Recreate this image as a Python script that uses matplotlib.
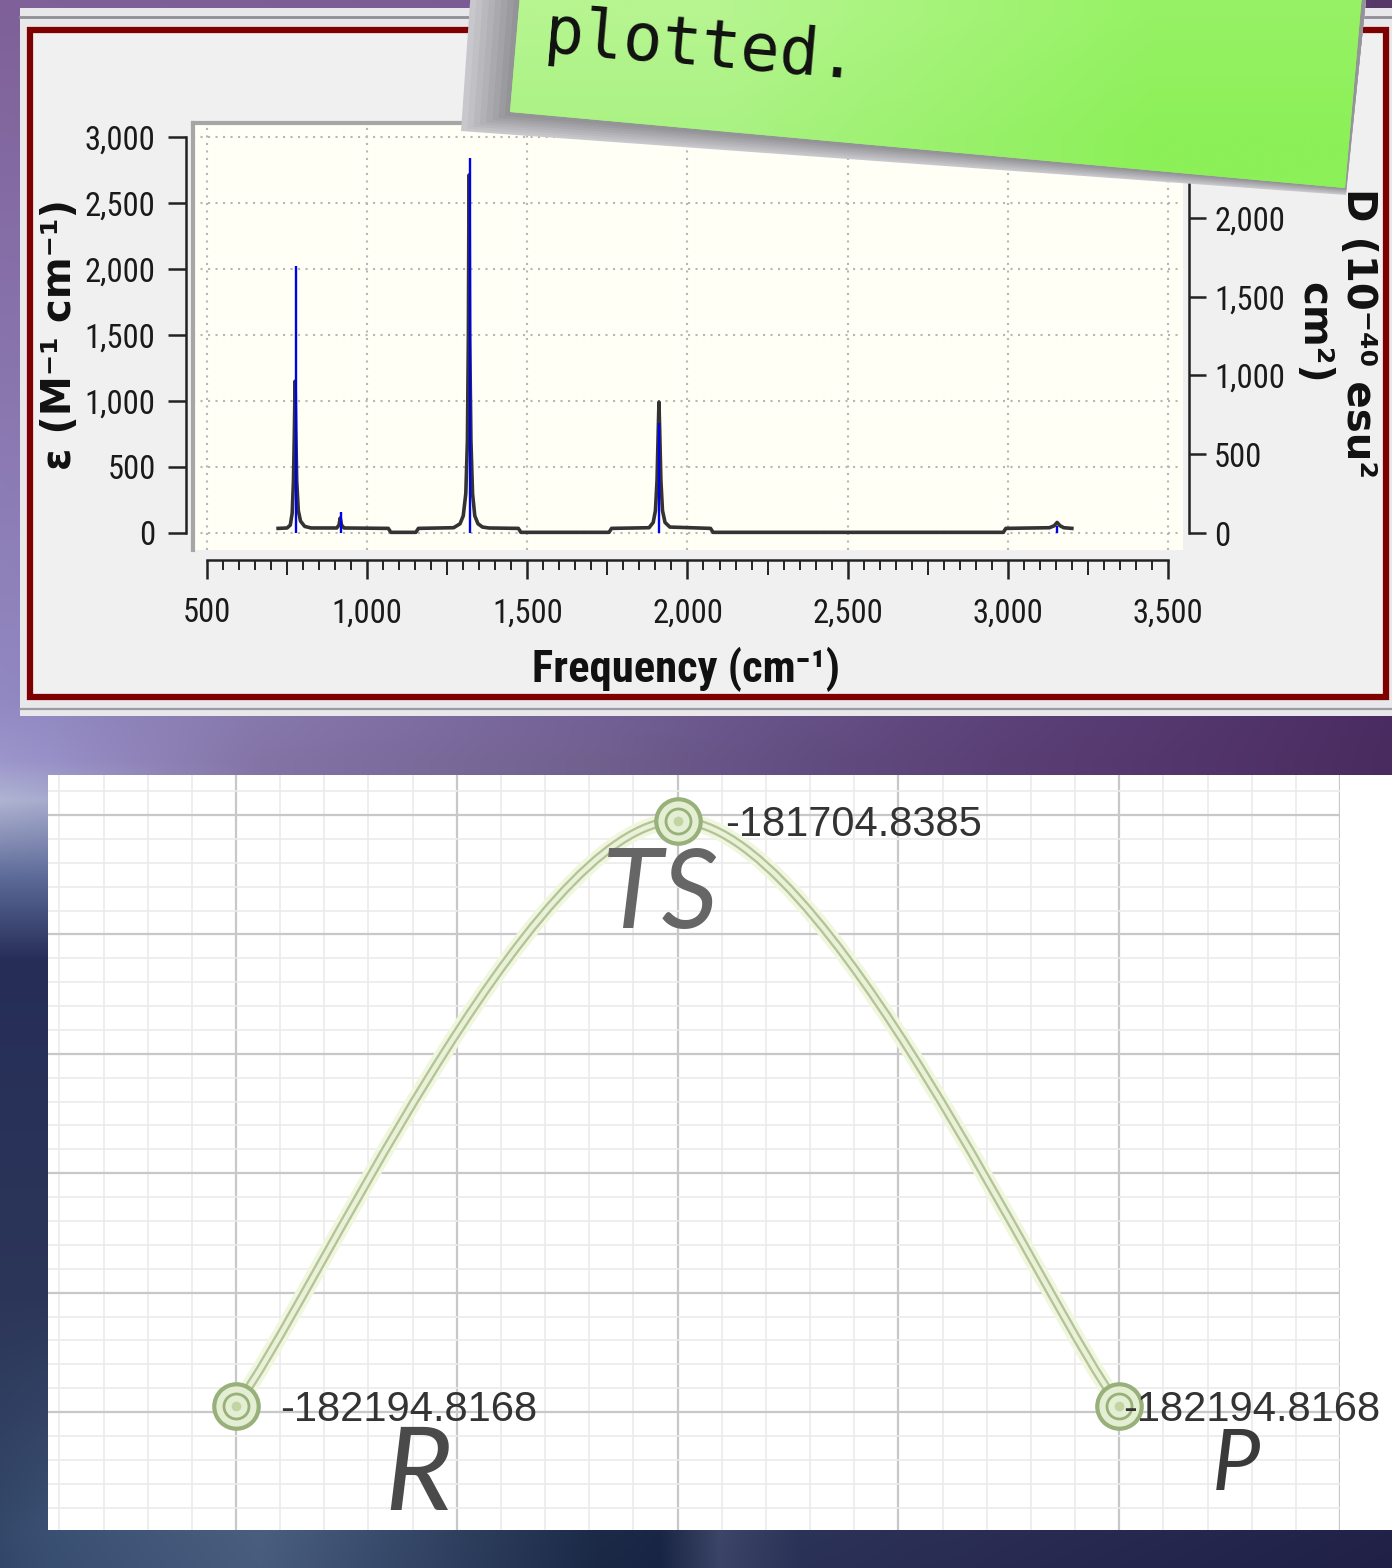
import numpy as np
import matplotlib.pyplot as plt
from matplotlib import font_manager
from matplotlib.patches import Rectangle, Polygon, PathPatch
from matplotlib.path import Path
from matplotlib.colors import to_rgb
from matplotlib.ticker import FixedLocator, FuncFormatter, MultipleLocator

W, H = 1392, 1568

# broadened IR spectrum, epsilon (M-1 cm-1) on the left axis
spec_freq = [722, 750, 760, 766, 770, 773, 775, 777, 780, 785, 792, 805, 825,
             905, 912, 916, 920, 928, 1066, 1074, 1152, 1160,
             1270, 1290, 1300, 1308, 1313, 1316, 1318, 1320, 1324, 1329, 1336, 1346, 1360, 1380,
             1472, 1480, 1755, 1763,
             1880, 1893, 1900, 1905, 1909, 1911, 1913, 1917, 1922, 1930, 1945,
             2072, 2080, 2986, 2994,
             3130, 3145, 3154, 3163, 3175, 3200]
spec_eps = [35, 38, 60, 150, 400, 800, 1150, 800, 400, 170, 90, 50, 38,
            38, 60, 114, 60, 38, 35, 5, 5, 35,
            40, 70, 130, 300, 700, 1500, 2712, 1500, 700, 300, 130, 70, 45, 38,
            35, 5, 5, 35,
            40, 80, 170, 400, 800, 992, 800, 400, 170, 80, 45,
            35, 5, 5, 35,
            40, 55, 80, 55, 40, 35]

# dipole strengths of the individual modes, right axis
stick_freq = [778, 918, 1322, 1911, 3154]
stick_d = [1695, 133, 2381, 700, 45]

freq_ticks = [500, 1000, 1500, 2000, 2500, 3000, 3500]
eps_ticks = [0, 500, 1000, 1500, 2000, 2500, 3000]
d_ticks = [0, 500, 1000, 1500, 2000, 2500]

# reaction path energies
stages = ['R', 'TS', 'P']
stage_pos = [0, 1, 2]
energies = [-182194.8168, -181704.8385, -182194.8168]


def first_font(names):
    for name in names:
        try:
            font_manager.findfont(name, fallback_to_default=False)
            return name
        except ValueError:
            pass
    return 'DejaVu Sans'


narrow = first_font(['Liberation Sans Narrow', 'Roboto Condensed', 'DejaVu Sans Condensed',
                     'Open Sans Condensed', 'Roboto', 'Liberation Sans'])
plt.rcParams['font.family'] = [narrow, 'DejaVu Sans']


def box(x0, y0, x1, y1):
    return [x0 / W, 1 - y1 / H, (x1 - x0) / W, (y1 - y0) / H]


fig = plt.figure(figsize=(W / 100, H / 100), dpi=100)
renderer = fig.canvas.get_renderer()


def fit_size(text, width_px, weight='normal', base=24):
    probe = fig.text(0, 0, text, fontsize=base, weight=weight)
    w = probe.get_window_extent(renderer=renderer).width
    probe.remove()
    return base * width_px / w


tick_size = fit_size('3,000', 71)
xlabel_size = fit_size('Frequency (cm⁻¹)', 308, weight='bold', base=30)

# ---- backdrop gradient ----
gx = [0, 48, 260, 600, 660, 720, 800, 1000, 1392]
gy = [0, 700, 760, 800, 880, 960, 1300, 1530, 1568]
gcol = [
    ['7f6098', '7f6098', '7d5e96', '7a5a92', '78588f', '77578e', '74548b', '6c4c85', '583868'],
    ['9288c2', '9088c0', '887aae', '74609a', '705c94', '6c5890', '685288', '5c437a', '4a2c62'],
    ['9c96cc', '9890c8', '8474a6', '70608e', '6c5a8a', '685486', '624e80', '5a3f75', '4a2b60'],
    ['b0b4d2', 'a8acce', '8474a6', '70608e', '6c5a8a', '685486', '624e80', '5a3f75', '4a2b60'],
    ['5a6896', '5a6896', '5a6896', '5a6896', '5a6896', '5a6896', '5a6896', '5a6896', '5a6896'],
    ['262e58', '262e58', '262e58', '262e58', '262e58', '262e58', '262e58', '262e58', '262e58'],
    ['2c3658', '2c3658', '2c3658', '2c3658', '2c3658', '2c3658', '2c3658', '2c3658', '2c3658'],
    ['34486a', '3a5072', '4a5f80', '1c2a48', '1a2646', '3c4668', '2c3358', '2a2c54', '222248'],
    ['32466a', '384e70', '485c7e', '1a2846', '182444', '3a4466', '2a3156', '282a52', '202046'],
]
gc = np.array([[to_rgb('#' + c) for c in row] for row in gcol])
xs = np.arange(W) + 0.5
ys = np.arange(H) + 0.5
rows = np.stack([np.stack([np.interp(xs, gx, gc[r, :, k]) for k in range(3)], axis=-1)
                 for r in range(len(gy))])
iy = np.clip(np.searchsorted(gy, ys, side='right') - 1, 0, len(gy) - 2)
gy_arr = np.array(gy, float)
t = ((ys - gy_arr[iy]) / (gy_arr[iy + 1] - gy_arr[iy]))[:, None, None]
backdrop = rows[iy] * (1 - t) + rows[iy + 1] * t

bg = fig.add_axes([0, 0, 1, 1], zorder=0)
bg.imshow(backdrop, extent=(0, W, H, 0), aspect='auto', interpolation='bilinear')
bg.set_xlim(0, W)
bg.set_ylim(H, 0)
bg.axis('off')

# spectrum window frame
bg.add_patch(Rectangle((20, 8), W - 20, 708, fc='#e8e8eb', ec='none'))
bg.plot([20, W], [17, 17], color='#8f8f97', lw=2)
bg.plot([20, W], [709, 709], color='#9a9aa2', lw=1.6)
bg.add_patch(Rectangle((30, 30), 1356, 667, fc='#f0f0f0', ec='#7e0000', lw=4.5))
# white sheet of the energy diagram
bg.add_patch(Rectangle((48, 775), W - 48, 755, fc='white', ec='none'))

# ---- IR spectrum ----
ax = fig.add_axes(box(193, 123, 1183, 550), zorder=2)
ax.set_facecolor('#fffff6')
ax.set_xlim(456.3, 3547)
ax.set_ylim(-128.8, 3106)
ax.plot(spec_freq, spec_eps, color='#333333', lw=2.6, solid_joinstyle='round', zorder=3)

ax.grid(True, which='major', color='#b6b6b6', linestyle=(0, (1, 2.6)), lw=1.5)
ax.set_axisbelow(True)
ax.spines['right'].set_visible(False)
ax.spines['top'].set_color('#a6a6a6')
ax.spines['top'].set_linewidth(3)
ax.plot([0, 0], [0, 1], transform=ax.transAxes, color='#a6a6a6', lw=3, clip_on=False)

ax.spines['left'].set_position(('outward', 5))
ax.spines['left'].set_bounds(0, 3000)
ax.spines['bottom'].set_position(('outward', 7))
ax.spines['bottom'].set_bounds(500, 3500)
for s in ('left', 'bottom'):
    ax.spines[s].set_linewidth(1.8)
    ax.spines[s].set_color('#222222')

fmt = FuncFormatter(lambda v, _: f'{v:,.0f}')
ax.yaxis.set_major_locator(FixedLocator(eps_ticks))
ax.yaxis.set_major_formatter(fmt)
ax.xaxis.set_major_locator(FixedLocator(freq_ticks))
ax.xaxis.set_major_formatter(fmt)
minor_locs = [f for f in range(550, 3500, 50) if f % 500]
ax.xaxis.set_minor_locator(FixedLocator(minor_locs))
ax.tick_params(axis='y', which='major', direction='out', length=13, width=1.8,
               pad=9, labelsize=tick_size, color='#222222', labelcolor='#1a1a1a')
ax.tick_params(axis='x', which='major', direction='out', length=14, width=1.8,
               pad=13, labelsize=tick_size, color='#222222', labelcolor='#1a1a1a')
ax.tick_params(axis='x', which='minor', direction='out', length=7.5, width=1.4,
               color='#222222')
for tk, loc in zip(ax.xaxis.get_minor_ticks(len(minor_locs)), minor_locs):
    if loc % 250 == 0:
        tk.tick1line.set_markersize(11)

ax2 = ax.twinx()
ax2.set_zorder(3)
ax2.set_ylim(-107.9, 2603)
ax2.vlines(stick_freq, 0, stick_d, color='#0000f0', lw=1.7)
for s in ('left', 'top', 'bottom'):
    ax2.spines[s].set_visible(False)
ax2.spines['right'].set_position(('outward', 4))
ax2.spines['right'].set_bounds(0, 2500)
ax2.spines['right'].set_linewidth(1.8)
ax2.spines['right'].set_color('#222222')
ax2.yaxis.set_major_locator(FixedLocator(d_ticks))
ax2.yaxis.set_major_formatter(fmt)
ax2.tick_params(axis='y', direction='out', length=12, width=1.8, pad=6.5,
                labelsize=tick_size, color='#222222', labelcolor='#1a1a1a')

fig.text(60 / W, 1 - 335 / H, 'ε (M⁻¹ cm⁻¹)', rotation=90, ha='center', va='center',
         family='DejaVu Sans', weight='bold', fontsize=29, color='#111111')
fig.text(1336 / W, 1 - 333 / H, 'D (10⁻⁴⁰ esu²\ncm²)', rotation=270, ha='center',
         va='center', multialignment='center', linespacing=1.15,
         family='DejaVu Sans', weight='bold', fontsize=29, color='#111111')
fig.text(686 / W, 1 - 669 / H, 'Frequency (cm⁻¹)', ha='center', va='center',
         weight='bold', fontsize=xlabel_size, color='#111111')

# ---- energy profile along the reaction path ----
eax = fig.add_axes(box(48, 775, 1340, 1530), zorder=2)
eax.set_facecolor('white')
eax.set_xlim(-0.4257, 2.5)
eax.set_ylim(-182298.8, -181666.5)
eax.xaxis.set_major_locator(MultipleLocator(0.5))
eax.xaxis.set_minor_locator(MultipleLocator(0.1))
eax.yaxis.set_major_locator(MultipleLocator(100))
eax.yaxis.set_minor_locator(MultipleLocator(20))
eax.grid(True, which='minor', color='#ebebeb', lw=1.2)
eax.grid(True, which='major', color='#c8c8c8', lw=1.6)
eax.set_axisbelow(True)
eax.tick_params(which='both', length=0, labelbottom=False, labelleft=False)
for s in eax.spines.values():
    s.set_visible(False)

# smoothed connector through the stationary points (Catmull-Rom as cubic Bezier)
pts = np.column_stack([stage_pos, energies]).astype(float)
verts, codes = [tuple(pts[0])], [Path.MOVETO]
for i in range(len(pts) - 1):
    p0, p1 = pts[max(i - 1, 0)], pts[i]
    p2, p3 = pts[i + 1], pts[min(i + 2, len(pts) - 1)]
    verts += [tuple(p1 + (p2 - p0) / 6), tuple(p2 - (p3 - p1) / 6), tuple(p2)]
    codes += [Path.CURVE4] * 3
path = Path(verts, codes)
for lw, col in [(12, '#f1f6de'), (6.5, '#b3c39a'), (3.2, '#eaf1d6')]:
    eax.add_patch(PathPatch(path, fill=False, lw=lw, ec=col, capstyle='round', zorder=3))

eax.plot(stage_pos, energies, 'o', ms=32, mfc='#e3eed2', mec='#98b07a', mew=3, zorder=4)
eax.plot(stage_pos, energies, 'o', ms=18, mfc='none', mec='#98b07a', mew=2, zorder=5)
eax.plot(stage_pos, energies, 'o', ms=7, mfc='#c2d4a4', mec='none', zorder=5)

value_offsets = [32, 34.5, 3]
for x, e, dx in zip(stage_pos, energies, value_offsets):
    eax.annotate(f'{e:.4f}', (x, e), xytext=(dx, 0), textcoords='offset points',
                 ha='left', va='center_baseline', fontsize=30, color='#333333',
                 family=['Liberation Sans', 'DejaVu Sans'], zorder=6)

tag_style = {
    'R': dict(offset=(131, -51), size=84, color='#4a4a4a'),
    'TS': dict(offset=(-12, -55), size=80, color='#666666'),
    'P': dict(offset=(84, -43), size=62, color='#3a3a3a'),
}
for name, x, e in zip(stages, stage_pos, energies):
    st = tag_style[name]
    eax.annotate(name, (x, e), xytext=st['offset'], textcoords='offset points',
                 ha='center', va='center', fontsize=st['size'], color=st['color'],
                 style='italic', weight='normal', family=['Lato', 'DejaVu Sans'],
                 zorder=6)

# ---- sticky note over the spectrum ----
note = fig.add_axes([0, 0, 1, 1], zorder=10)
note.set_xlim(0, W)
note.set_ylim(H, 0)
note.axis('off')
# soft drop shadow, built from nested outlines fading outwards
outer_col, inner_col = np.array(to_rgb('#c8c8cc')), np.array(to_rgb('#949498'))
for k, f in enumerate(np.linspace(0, 1, 8)):
    bx = 461 + f * (505 - 461)
    by = 131 - f * (131 - 116)
    ry = 195 - f * (195 - 189)
    col = outer_col * (1 - f) + inner_col * f
    note.add_patch(Polygon([(bx + 12, -40), (bx, by), (1346, ry), (1370, -40)],
                           closed=True, fc=col, ec='none', zorder=1 + k * 0.01))
sheet = Polygon([(523, -40), (510, 112), (1345, 188), (1365, -40)], closed=True,
                fc='#a0f070', ec='none', zorder=2)
note.add_patch(sheet)
shade = np.array([[to_rgb('#b6f590'), to_rgb('#96f264')],
                  [to_rgb('#aaf283'), to_rgb('#8cf058')]])
im = note.imshow(shade, extent=(505, 1370, 200, -45), aspect='auto',
                 interpolation='bilinear', zorder=3)
im.set_clip_path(sheet)
note.set_xlim(0, W)
note.set_ylim(H, 0)
note.text(543, 52, 'plotted.', fontsize=47, family='DejaVu Sans Mono', color='#111111',
          rotation=-5, rotation_mode='anchor', ha='left', va='baseline', zorder=4)

fig.savefig('out.png', dpi=100)
